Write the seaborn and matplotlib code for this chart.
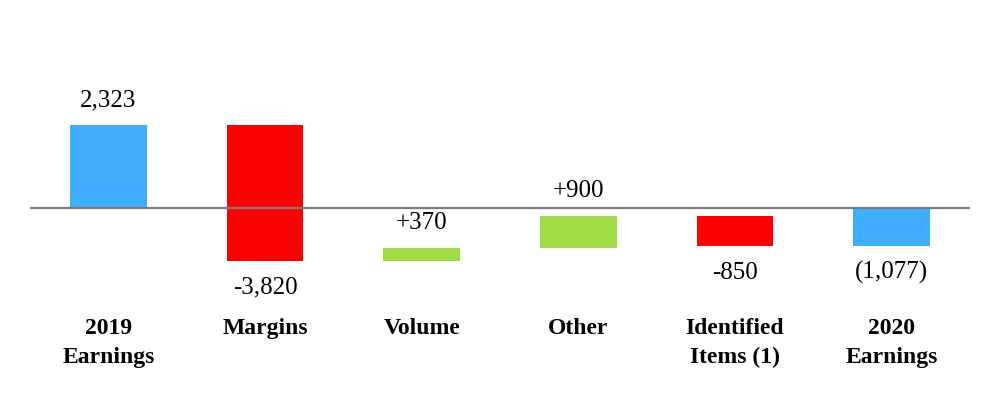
import matplotlib
matplotlib.use("Agg")
import matplotlib.pyplot as plt
import matplotlib.transforms as mtransforms
import seaborn as sns
import pandas as pd

categories = ["2019\nEarnings", "Margins", "Volume", "Other", "Identified\nItems (1)", "2020\nEarnings"]
deltas = [2323, -3820, 370, 900, -850, -1077]
value_labels = ["2,323", "-3,820", "+370", "+900", "-850", "(1,077)"]
bar_colors = ["#41ADFF", "#FF0000", "#9FDB45", "#9FDB45", "#FF0000", "#41ADFF"]

# waterfall bottoms: totals start at 0, steps continue the running total
bottoms = []
running = 0
for i, d in enumerate(deltas):
    if i == 0 or i == len(deltas) - 1:
        bottoms.append(0)
    else:
        bottoms.append(running)
    if i < len(deltas) - 1:
        running += d

df = pd.DataFrame({"cat": categories, "delta": deltas, "bottom": bottoms})

sns.set_theme(style="white")
plt.rcParams["font.family"] = ["Liberation Serif", "DejaVu Serif"]

fig = plt.figure(figsize=(10, 4), dpi=100)
ax = fig.add_axes([0.03, 0.1275, 0.94, 0.62])

sns.barplot(data=df, x="cat", y="delta", hue="cat", palette=bar_colors,
            legend=False, width=0.49, ax=ax, saturation=1, linewidth=0)

# shift each bar so it floats on the running total
for p in ax.patches:
    idx = int(round(p.get_x() + p.get_width() / 2))
    p.set_y(bottoms[idx])

ax.set_xlim(-0.5, 5.5)
ax.set_ylim(-3980, 3000)
ax.axhline(0, color="#7a7a7a", lw=1.6, zorder=3)

for s in ax.spines.values():
    s.set_visible(False)
ax.set_xticks([])
ax.set_yticks([])
ax.set_xlabel("")
ax.set_ylabel("")

for i, (d, b, lab) in enumerate(zip(deltas, bottoms, value_labels)):
    if d > 0:
        ax.annotate(lab, (i, b + d), xytext=(0, 17.5), textcoords="offset points",
                    ha="center", va="center", fontsize=18, color="black")
    else:
        ax.annotate(lab, (i, b + d), xytext=(0, -19.5), textcoords="offset points",
                    ha="center", va="center", fontsize=18, color="black")

trans = mtransforms.blended_transform_factory(ax.transData, fig.transFigure)
for i, c in enumerate(categories):
    ax.text(i, 1 - 318 / 400, c, transform=trans, ha="center", va="top",
            fontsize=17, fontweight="bold", color="black", linespacing=1.5)

fig.savefig("out.png", dpi=100)
